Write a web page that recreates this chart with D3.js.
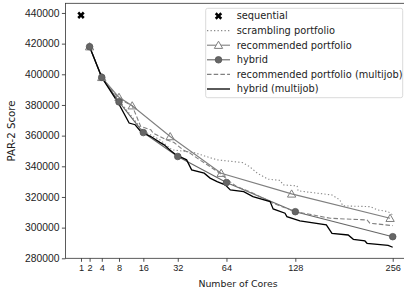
<!DOCTYPE html>
<html><head><meta charset="utf-8">
<script src="https://cdn.jsdelivr.net/npm/d3@7"></script>
<style>body{margin:0;background:#fff}svg{display:block;font-family:"DejaVu Sans",sans-serif}</style>
</head><body><svg id="c" width="404" height="294"></svg>
<script>
const xTicks = [1,2,4,8,16,32,64,128,256];
const yTicks = [280000,300000,320000,340000,360000,380000,400000,420000,440000];
const seqCores = [1];
const seqScore = [438500];
const scrCores = [2,4,8,16,23,29,41,50,57,77,83,90,100,112,115,130,131,171,181,185,222,234,249,256];
const scrScore = [418000,398000,383000,363000,357300,350700,349100,346200,344200,342400,339800,335500,331600,330800,327900,327200,324000,321300,318100,314200,313700,311500,310400,308300];
const recCores = [2,4,8,12,28,60,124,252];
const recScore = [418000,398000,385000,379500,359400,335500,322000,306100];
const hybCores = [2,4,8,16,32,64,128,256];
const hybScore = [418000,398000,382000,362000,346400,329400,310400,294100];
const recMjCores = [2,4,8,12,15,19,20,26,30,35,39,45,52,59,67,72,83,99,105,128,144,169,218,222,256];
const recMjScore = [418000,398000,384000,379500,366000,363800,361600,357300,355500,350700,348600,344200,339800,335500,329800,326800,323500,318100,315900,310400,308700,306100,305000,302900,301300];
const hybMjCores = [2,4,8,11,13,15,19,23,25,28,31,37,40,48,52,57,63,67,78,86,102,105,117,119,133,164,171,192,199,215,218,249,256];
const hybMjScore = [418000,398000,380500,368200,367100,362700,359400,355600,354000,350400,347500,344200,337700,335500,332300,330000,327900,324600,323500,320200,317000,312200,309400,307200,304400,301800,296300,295200,292400,291300,289800,288400,287200];
const legendLabels = ["sequential","scrambling portfolio","recommended portfolio","hybrid","recommended portfolio (multijob)","hybrid (multijob)"];

const svg = d3.select("#c");
const x = d3.scaleSqrt().domain([0.0625, 280.56]).range([65.4, 408.3]);
const y = d3.scaleLinear().domain([280000, 446300]).range([258.3, 3.3]);

const zip = (a,b)=>a.map((v,i)=>[v,b[i]]);
const line = d3.line().x(d=>x(d[0])).y(d=>y(d[1]));

// axes
const gx = svg.append("g").attr("transform","translate(0,258.3)")
  .call(d3.axisBottom(x).tickValues(xTicks).tickFormat(d3.format("d")).tickSizeOuter(0).tickSize(3.5).tickPadding(2.5));
gx.selectAll("text").attr("font-size","9.2px").attr("fill","#222");
const gy = svg.append("g").attr("transform","translate(65.4,0)")
  .call(d3.axisLeft(y).tickValues(yTicks).tickFormat(d3.format("d")).tickSizeOuter(0).tickSize(3.5).tickPadding(2.5));
gy.selectAll("text").attr("font-size","10.3px").attr("fill","#222");
svg.selectAll(".domain").remove();
svg.selectAll(".tick line").attr("stroke","#222").attr("stroke-width",0.8);
// spines
const [x0,x1] = x.range(), [yb,yt] = y.range();
svg.append("rect").attr("x",x0).attr("y",yt).attr("width",x1-x0).attr("height",yb-yt)
  .attr("fill","none").attr("stroke","#333").attr("stroke-width",0.8);

svg.append("text").attr("x",238).attr("y",286.5).attr("text-anchor","middle")
  .attr("font-size","9.4px").attr("fill","#222").text("Number of Cores");
svg.append("text").attr("transform","translate(15,131) rotate(-90)").attr("text-anchor","middle")
  .attr("font-size","10.2px").attr("fill","#222").text("PAR-2 Score");

const tri = d3.symbol().type(d3.symbolTriangle).size(30);
const cross = d3.symbol().type(d3.symbolCross).size(34);

const series = [
  {c:scrCores,s:scrScore,color:"#8a8a8a",dash:"1.3,2.2",w:1.1},
  {c:recCores,s:recScore,color:"#7f7f7f",dash:null,w:1.1},
  {c:hybCores,s:hybScore,color:"#666",dash:null,w:1.1},
  {c:recMjCores,s:recMjScore,color:"#808080",dash:"4.5,2.2",w:1.1},
  {c:hybMjCores,s:hybMjScore,color:"#000",dash:null,w:1.3}
];
const plot = svg.append("g");
series.forEach(se=>{
  const p = plot.append("path").datum(zip(se.c,se.s)).attr("d",line)
    .attr("fill","none").attr("stroke",se.color).attr("stroke-width",se.w).attr("stroke-linejoin","miter");
  if(se.dash) p.attr("stroke-dasharray",se.dash);
});
// markers
plot.selectAll(".tri").data(zip(recCores,recScore)).join("path")
  .attr("d",tri).attr("transform",d=>`translate(${x(d[0])},${y(d[1])+0.8})`)
  .attr("fill","none").attr("stroke","#7f7f7f").attr("stroke-width",1);
plot.selectAll(".circ").data(zip(hybCores,hybScore)).join("circle")
  .attr("cx",d=>x(d[0])).attr("cy",d=>y(d[1])).attr("r",3.3)
  .attr("fill","#666").attr("stroke","#555").attr("stroke-width",0.8);
plot.selectAll(".seq").data(zip(seqCores,seqScore)).join("path")
  .attr("d",cross).attr("transform",d=>`translate(${x(d[0])},${y(d[1])}) rotate(45)`).attr("fill","#000");

// legend
const lg = svg.append("g");
lg.append("rect").attr("x",205.7).attr("y",8.3).attr("width",197).attr("height",89.4).attr("rx",2)
  .attr("fill","#fff").attr("fill-opacity",0.8).attr("stroke","#d0d0d0").attr("stroke-width",0.8);
const rows = [
  {t:"seq"},
  {color:"#8a8a8a",dash:"1.3,2.2"},
  {color:"#7f7f7f",marker:"tri"},
  {color:"#666",marker:"circ"},
  {color:"#808080",dash:"4.5,2.2"},
  {color:"#000",w:1.3}
];
rows.forEach((r,i)=>{
  const yy = 16 + i*14.6;
  if(r.t!=="seq"){
    const l = lg.append("line").attr("x1",207).attr("x2",230).attr("y1",yy).attr("y2",yy)
      .attr("stroke",r.color).attr("stroke-width",r.w||1.1);
    if(r.dash) l.attr("stroke-dasharray",r.dash);
  }
  if(r.t==="seq") lg.append("path").attr("d",cross).attr("transform",`translate(218.5,${yy}) rotate(45)`).attr("fill","#000");
  if(r.marker==="tri") lg.append("path").attr("d",tri).attr("transform",`translate(218.5,${yy+0.8})`).attr("fill","#fff").attr("stroke","#7f7f7f");
  if(r.marker==="circ") lg.append("circle").attr("cx",218.5).attr("cy",yy).attr("r",3.3).attr("fill","#666").attr("stroke","#555").attr("stroke-width",0.8);
  lg.append("text").attr("x",236.7).attr("y",yy).attr("dy","0.35em").attr("font-size","9.8px").attr("fill","#222").text(legendLabels[i]);
});
</script></body></html>
